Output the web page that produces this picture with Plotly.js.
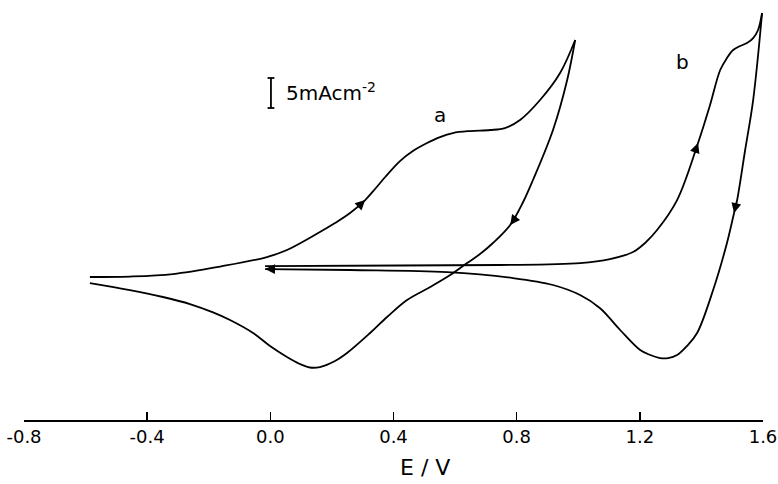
<!DOCTYPE html>
<html>
<head>
<meta charset="utf-8">
<script src="https://cdn.plot.ly/plotly-3.0.1.min.js"></script>
<style>html,body{margin:0;padding:0;background:#fff;}#chart{width:778px;height:484px;}</style>
</head>
<body>
<div id="chart"></div>
<script>
// Potential E / V and current density (mA cm^-2)
const aForwardE = [-0.586,-0.456,-0.316,-0.163,-0.011,0.054,0.161,0.210,0.259,0.308,0.340,0.373,0.421,0.463,0.509,0.551,0.593,0.649,0.714,0.762,0.811,0.876,0.941,0.990];
const aForwardI = [-1.5,-1.42,-1.0,0.25,1.83,3.0,6.0,7.5,9.17,11.33,13.17,15.17,17.83,19.5,20.83,21.83,22.5,22.83,23.0,23.33,24.67,28.0,32.5,38.0];
const aReverseE = [0.990,0.964,0.918,0.853,0.821,0.779,0.723,0.681,0.639,0.584,0.519,0.444,0.379,0.324,0.249,0.210,0.161,0.129,0.096,0.054,-0.001,-0.056,-0.131,-0.186,-0.261,-0.349,-0.456,-0.586];
const aReverseI = [38.0,31.33,23.0,14.67,11.0,7.17,4.17,2.33,0.83,-1.17,-3.17,-5.33,-8.17,-10.83,-14.17,-15.5,-16.5,-16.58,-16.0,-14.83,-13.0,-10.83,-8.67,-7.4,-6.0,-4.83,-3.67,-2.5];
const bForwardE = [-0.017,0.421,0.746,1.006,1.103,1.178,1.217,1.256,1.321,1.389,1.428,1.461,1.483,1.503,1.526,1.548,1.568,1.584,1.597];
const bForwardI = [0.33,0.42,0.5,0.83,1.5,2.67,4.17,6.33,11.33,20.83,27.17,33.0,35.0,36.33,37.0,37.5,38.33,39.67,42.5];
const bReverseE = [1.597,1.568,1.542,1.516,1.506,1.483,1.438,1.386,1.353,1.321,1.292,1.266,1.234,1.201,1.136,1.071,1.006,0.918,0.788,0.574,0.259,-0.017];
const bReverseI = [42.5,28.0,19.67,11.33,9.17,4.17,-3.67,-10.83,-13.0,-14.5,-15.0,-15.0,-14.5,-13.67,-10.33,-6.7,-4.5,-2.83,-1.67,-0.67,-0.33,-0.17];
const tickValues = [-0.8,-0.4,0.0,0.4,0.8,1.2,1.6];
const tickLabels = ["-0.8","-0.4","0.0","0.4","0.8","1.2","1.6"];
const curveLabels = ["a","b"];
const scaleBarValue = 5; // mA cm^-2

const FONT = "DejaVu Sans";
const line = {color:"#000", width:1.8, shape:"spline", smoothing:1.0};
const traces = [
  {x:aForwardE, y:aForwardI, mode:"lines", line:line, hoverinfo:"skip"},
  {x:aReverseE, y:aReverseI, mode:"lines", line:line, hoverinfo:"skip"},
  {x:bForwardE, y:bForwardI, mode:"lines", line:line, hoverinfo:"skip"},
  {x:bReverseE, y:bReverseI, mode:"lines", line:line, hoverinfo:"skip"}
];

const pxPerV = 307.9, pxPerI = 6;
function arrowAt(E, I, i, len) {
  const dx = (E[i+1]-E[i-1])*pxPerV, dy = -(I[i+1]-I[i-1])*pxPerI;
  const n = Math.hypot(dx,dy);
  return {x:E[i], y:I[i], xref:"x", yref:"y", text:"", showarrow:true,
    arrowhead:2, arrowsize:1.1, arrowwidth:1.8, arrowcolor:"#000",
    ax:-dx/n*len, ay:-dy/n*len, standoff:0, startstandoff:0};
}
function endArrow(E, I, len) {
  const i = E.length-1;
  const dx = (E[i]-E[i-1])*pxPerV, dy = -(I[i]-I[i-1])*pxPerI;
  const n = Math.hypot(dx,dy);
  return {x:E[i], y:I[i], xref:"x", yref:"y", text:"", showarrow:true,
    arrowhead:2, arrowsize:1.1, arrowwidth:1.8, arrowcolor:"#000",
    ax:-dx/n*len, ay:-dy/n*len, standoff:0, startstandoff:0};
}

const annotations = [
  arrowAt(aForwardE, aForwardI, 9, 12),
  arrowAt(aReverseE, aReverseI, 5, 12),
  arrowAt(bForwardE, bForwardI, 9, 12),
  arrowAt(bReverseE, bReverseI, 4, 12),
  endArrow(bReverseE, bReverseI, 12),
  {x:0.55, y:25.5, xref:"x", yref:"y", text:curveLabels[0], showarrow:false, font:{family:FONT, size:20, color:"#000"}},
  {x:1.34, y:34.3, xref:"x", yref:"y", text:curveLabels[1], showarrow:false, font:{family:FONT, size:20, color:"#000"}},
  {x:0.043, y:29.3, xref:"x", yref:"y", xanchor:"left", text:scaleBarValue+"mAcm<sup>-2</sup>", showarrow:false, font:{family:FONT, size:20, color:"#000"}},
  {x:0.502, y:-0.114, xref:"x", yref:"paper", yanchor:"middle", text:"E / V", showarrow:false, font:{family:FONT, size:22, color:"#000"}}
];

const barX = 0.002, barY0 = 26.67, serif = 0.011;
const shapes = [
  {type:"line", xref:"x", yref:"y", x0:barX, x1:barX, y0:barY0, y1:barY0+scaleBarValue, line:{color:"#000", width:1.8}},
  {type:"line", xref:"x", yref:"y", x0:barX-serif, x1:barX+serif, y0:barY0, y1:barY0, line:{color:"#000", width:1.8}},
  {type:"line", xref:"x", yref:"y", x0:barX-serif, x1:barX+serif, y0:barY0+scaleBarValue, y1:barY0+scaleBarValue, line:{color:"#000", width:1.8}}
];

const layout = {
  width:778, height:484,
  margin:{l:24, r:15, t:0, b:64},
  paper_bgcolor:"#fff", plot_bgcolor:"#fff",
  showlegend:false,
  xaxis:{range:[-0.8,1.6], tickvals:tickValues, ticktext:tickLabels, ticks:"inside", ticklen:8, tickwidth:1.5, tickcolor:"#000",
    showline:true, linecolor:"#000", linewidth:1.5, showgrid:false, zeroline:false,
    tickfont:{family:FONT, size:18, color:"#000"}, fixedrange:true},
  yaxis:{range:[-25.33,44.67], visible:false, fixedrange:true},
  annotations:annotations, shapes:shapes
};
Plotly.newPlot("chart", traces, layout, {staticPlot:true, displayModeBar:false});
</script>
</body>
</html>
